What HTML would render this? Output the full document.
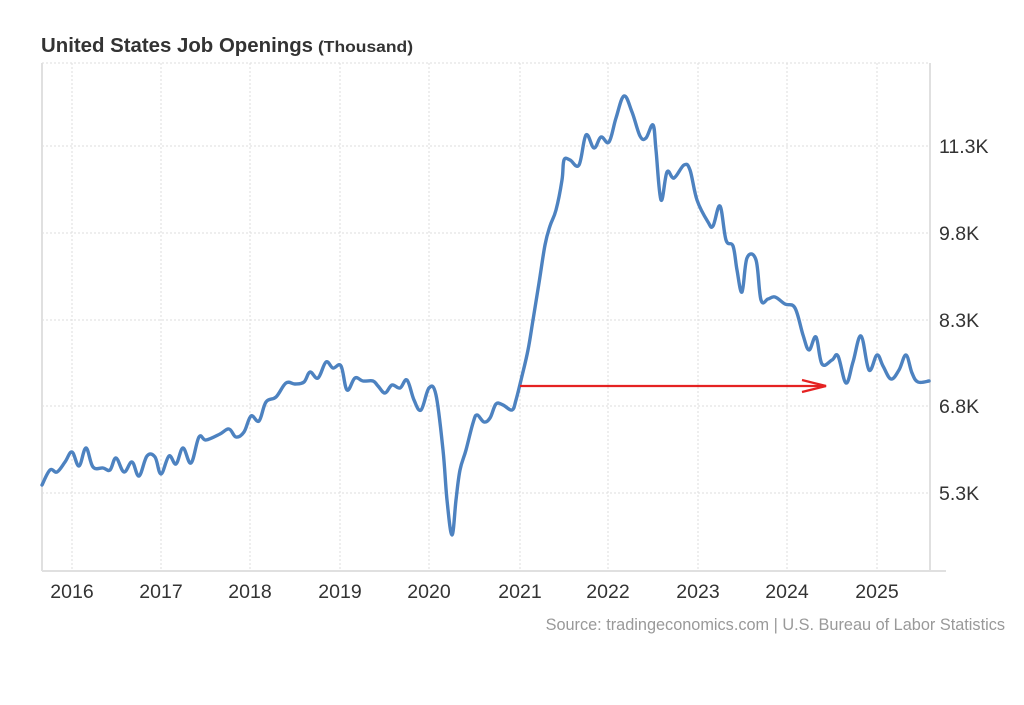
<!DOCTYPE html>
<html><head><meta charset="utf-8"><style>
body{margin:0;background:#fff;width:1024px;height:700px;overflow:hidden;font-family:"Liberation Sans",sans-serif}
</style></head><body>
<svg width="1024" height="700" xmlns="http://www.w3.org/2000/svg" font-family="Liberation Sans, sans-serif">
<text x="41" y="52" font-size="20" font-weight="bold" fill="#333" textLength="272" lengthAdjust="spacingAndGlyphs">United States Job Openings</text>
<text x="318" y="52" font-size="16" font-weight="bold" fill="#333" textLength="95" lengthAdjust="spacingAndGlyphs">(Thousand)</text>
<g stroke="#ddd" stroke-width="1" stroke-dasharray="2,2">
<line x1="42" y1="63" x2="930" y2="63"/><line x1="42" y1="146" x2="930" y2="146"/><line x1="42" y1="233" x2="930" y2="233"/><line x1="42" y1="320" x2="930" y2="320"/><line x1="42" y1="406" x2="930" y2="406"/><line x1="42" y1="493" x2="930" y2="493"/>
<line x1="72" y1="63" x2="72" y2="570"/><line x1="161" y1="63" x2="161" y2="570"/><line x1="250" y1="63" x2="250" y2="570"/><line x1="340" y1="63" x2="340" y2="570"/><line x1="429" y1="63" x2="429" y2="570"/><line x1="520" y1="63" x2="520" y2="570"/><line x1="608" y1="63" x2="608" y2="570"/><line x1="698" y1="63" x2="698" y2="570"/><line x1="787" y1="63" x2="787" y2="570"/><line x1="877" y1="63" x2="877" y2="570"/>
</g>
<line x1="42" y1="63" x2="42" y2="571" stroke="#e0e0e0" stroke-width="2"/>
<line x1="930" y1="63" x2="930" y2="571" stroke="#e0e0e0" stroke-width="2"/>
<line x1="42" y1="571" x2="946" y2="571" stroke="#e0e0e0" stroke-width="2"/>
<g font-size="19.5" fill="#333">
<text x="939" y="153">11.3K</text><text x="939" y="240">9.8K</text><text x="939" y="327">8.3K</text><text x="939" y="413">6.8K</text><text x="939" y="500">5.3K</text>
</g>
<g font-size="19.5" fill="#333" text-anchor="middle">
<text x="72" y="598">2016</text><text x="161" y="598">2017</text><text x="250" y="598">2018</text><text x="340" y="598">2019</text><text x="429" y="598">2020</text><text x="520" y="598">2021</text><text x="608" y="598">2022</text><text x="698" y="598">2023</text><text x="787" y="598">2024</text><text x="877" y="598">2025</text>
</g>
<text x="1005" y="630" font-size="16.3" fill="#999" text-anchor="end">Source: tradingeconomics.com | U.S. Bureau of Labor Statistics</text>
<path id="ln" fill="none" stroke="#4d82c0" stroke-width="3.4" stroke-linejoin="round" stroke-linecap="round" d=""/>
<g stroke="#e52222" stroke-width="2.2" fill="none">
<line x1="520" y1="386" x2="826" y2="386"/>
<polyline points="802,380 826,386 802,392"/>
</g>
</svg>
<script>
var s="42,485 50,470 57,472 65,462 72,452 79,466 86,448 93,467 103,468 110,470 116,458 124,472 132,462 139,476 147,456 155,457 161,474 169,456 176,464 183,448 191,463 199,437 206,440 220,434 229,429 236,437 244,432 251,416 259,421 266,402 276,397 286,383 295,384 304,382 310,372 318,378 326,362 333,368 341,366 347,390 355,378 363,381 373,381 378,386 385,393 392,385 400,388 407,380 414,400 421,410 429,388 436,395 443,450 447,500 452,535 456,500 460,470 466,450 473,423 477,415 484,422 490,418 496,404 503,405 512,410 516,400 522,376 528,350 533,320 539,283 545,245 550,226 556,210 562,180 564,160 570,160 579,165 586,135 594,148 601,137 609,142 616,118 624,96 632,112 640,136 646,138 653,125 656,150 661,200 667,172 674,178 684,165 690,170 697,200 708,222 713,226 720,206 726,240 733,246 737,270 742,292 747,258 756,260 761,300 768,299 775,297 785,304 795,308 803,335 809,350 816,337 822,364 832,360 838,356 846,383 853,362 861,336 869,370 877,355 883,366 891,379 899,370 906,355 912,373 918,382 929,381";
var p=s.split(" ").map(function(a){return a.split(",").map(Number)});
var d="M"+p[0][0]+","+p[0][1];
for(var i=0;i<p.length-1;i++){var a=p[i-1]||p[i],b=p[i],c=p[i+1],e=p[i+2]||c,t=0.18;
d+=" C"+(b[0]+(c[0]-a[0])*t).toFixed(1)+","+(b[1]+(c[1]-a[1])*t).toFixed(1)+" "+(c[0]-(e[0]-b[0])*t).toFixed(1)+","+(c[1]-(e[1]-b[1])*t).toFixed(1)+" "+c[0]+","+c[1];}
document.getElementById("ln").setAttribute("d",d);
</script>
</body></html>
